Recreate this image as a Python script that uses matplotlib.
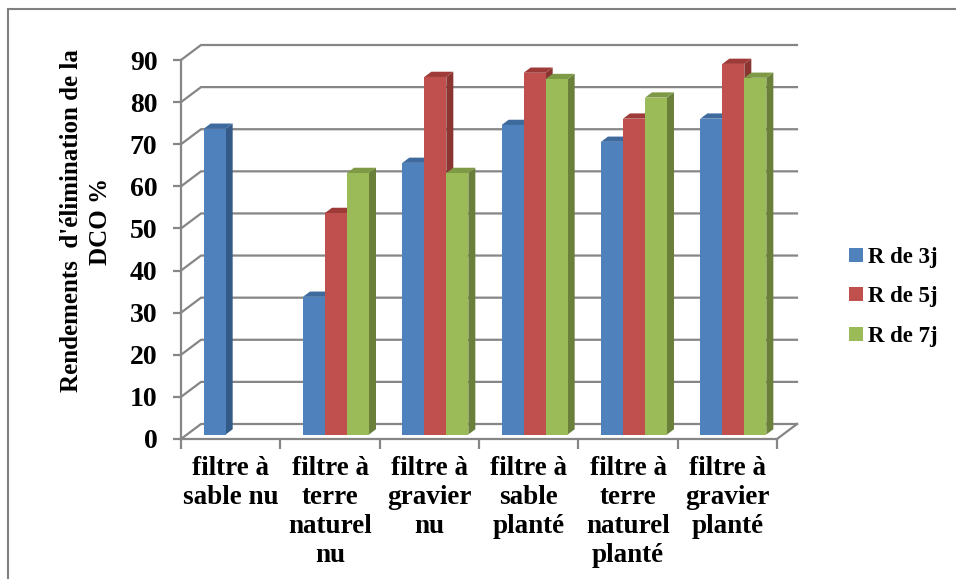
import numpy as np
import matplotlib.pyplot as plt
from matplotlib.patches import Polygon, Rectangle, Patch

# Data
categories = ["filtre à\nsable nu", "filtre à\nterre\nnaturel\nnu", "filtre à\ngravier\nnu",
              "filtre à\nsable\nplanté", "filtre à\nterre\nnaturel\nplanté", "filtre à\ngravier\nplanté"]
series_names = ["R de 3j", "R de 5j", "R de 7j"]
r3j = [72.6, 32.7, 64.5, 73.5, 69.5, 75.0]
r5j = [np.nan, 52.6, 84.9, 85.9, 75.0, 88.0]
r7j = [np.nan, 62.1, 62.1, 84.4, 80.0, 84.7]
yticks = list(range(0, 91, 10))

front_cols = ["#4F81BD", "#C0504D", "#9BBB59"]
side_cols = ["#345A88", "#8A3532", "#6A7F3A"]
top_cols = ["#3E6A9E", "#9E3B38", "#7F9A46"]
grid_col = "#868686"

plt.rcParams['font.family'] = ['Liberation Serif', 'DejaVu Serif']
plt.rcParams['font.weight'] = 'bold'

W, H = 956, 579
fig = plt.figure(figsize=(W / 100, H / 100), dpi=100)

# front plane: x 0..6 -> px 181..777, y 0..90 -> px 439..60
px_x = (777 - 181) / 6
px_y = (439 - 60) / 90
xmax, ymax = 6.25, 95
ax = fig.add_axes([181 / W, (H - 439) / H, xmax * px_x / W, ymax * px_y / H])
ax.set_xlim(0, xmax)
ax.set_ylim(0, ymax)
ax.patch.set_alpha(0)

# depth of the pseudo 3D box, bar plane and bar depth
dxb, dyb = 20 / px_x, 15 / px_y
bdx, bdy = 0.3 * dxb, 0.3 * dyb
ddx, ddy = 0.35 * dxb, 0.35 * dyb
ncat = len(categories)

# walls: side wall diagonals + back wall gridlines
for v in yticks:
    ax.plot([0, dxb, ncat + dxb], [v, v + dyb, v + dyb], color=grid_col, lw=1.6,
            zorder=1, solid_joinstyle='miter', clip_on=False)
ax.plot([ncat, ncat + dxb], [0, dyb], color=grid_col, lw=1.6, zorder=1, clip_on=False)

# bars
bw = 22 / px_x
z = 2
for i in range(ncat):
    for k, vals in enumerate([r3j, r5j, r7j]):
        v = vals[i]
        if np.isnan(v):
            continue
        x0 = i + 0.5 + (k - 1.5) * bw + bdx
        y0 = bdy
        side = Polygon([(x0 + bw, y0), (x0 + bw + ddx, y0 + ddy),
                        (x0 + bw + ddx, y0 + v + ddy), (x0 + bw, y0 + v)],
                       closed=True, facecolor=side_cols[k], edgecolor='none', zorder=z)
        top = Polygon([(x0, y0 + v), (x0 + ddx, y0 + v + ddy),
                       (x0 + bw + ddx, y0 + v + ddy), (x0 + bw, y0 + v)],
                      closed=True, facecolor=top_cols[k], edgecolor='none', zorder=z)
        ax.add_patch(side)
        ax.add_patch(top)
        ax.bar(x0, v, width=bw, bottom=y0, align='edge', color=front_cols[k],
               edgecolor='none', zorder=z + 0.5)
        z += 1

# axes, ticks
for s in ['top', 'right']:
    ax.spines[s].set_visible(False)
for s in ['left', 'bottom']:
    ax.spines[s].set_color(grid_col)
    ax.spines[s].set_linewidth(1.6)
    ax.spines[s].set_zorder(z + 5)
ax.spines['left'].set_bounds(0, 90)
ax.spines['bottom'].set_bounds(0, ncat)

ax.set_yticks(yticks)
ax.set_yticklabels([str(t) for t in yticks], fontsize=20, fontweight='bold')
ax.tick_params(axis='y', direction='out', length=6, width=1.6, color=grid_col, pad=11)

ax.set_xticks(range(ncat + 1))
ax.set_xticklabels([''] * (ncat + 1))
ax.tick_params(axis='x', which='major', direction='out', length=7, width=1.6, color=grid_col)
ax.set_xticks([i + 0.5 for i in range(ncat)], minor=True)
ax.set_xticklabels(categories, minor=True, fontsize=19.5, fontweight='bold')
ax.tick_params(axis='x', which='minor', length=0, pad=12)
for lab in ax.get_xticklabels(minor=True):
    lab.set_linespacing(1.22)

fig.text(86 / W, 1 - 221 / H, "Rendements  d'élimination de la\nDCO %", rotation=90,
         ha='center', va='center', multialignment='center', fontsize=18,
         fontweight='bold', linespacing=1.32)

handles = [Patch(facecolor=c, edgecolor='none') for c in front_cols]
fig.legend(handles, series_names, loc='center left', bbox_to_anchor=(849 / W, 1 - 297 / H),
           frameon=False, handlelength=0.6, handleheight=0.55,
           handletextpad=0.25, labelspacing=0.8, borderpad=0, borderaxespad=0,
           prop={'weight': 'bold', 'size': 16.5})

# chart border
fig.patches.append(Rectangle((8 / W, -0.05), 1.1, 1 - 9 / H + 0.05, transform=fig.transFigure,
                             fill=False, edgecolor='#808080', lw=1.5))

fig.savefig("out.png", dpi=100)
